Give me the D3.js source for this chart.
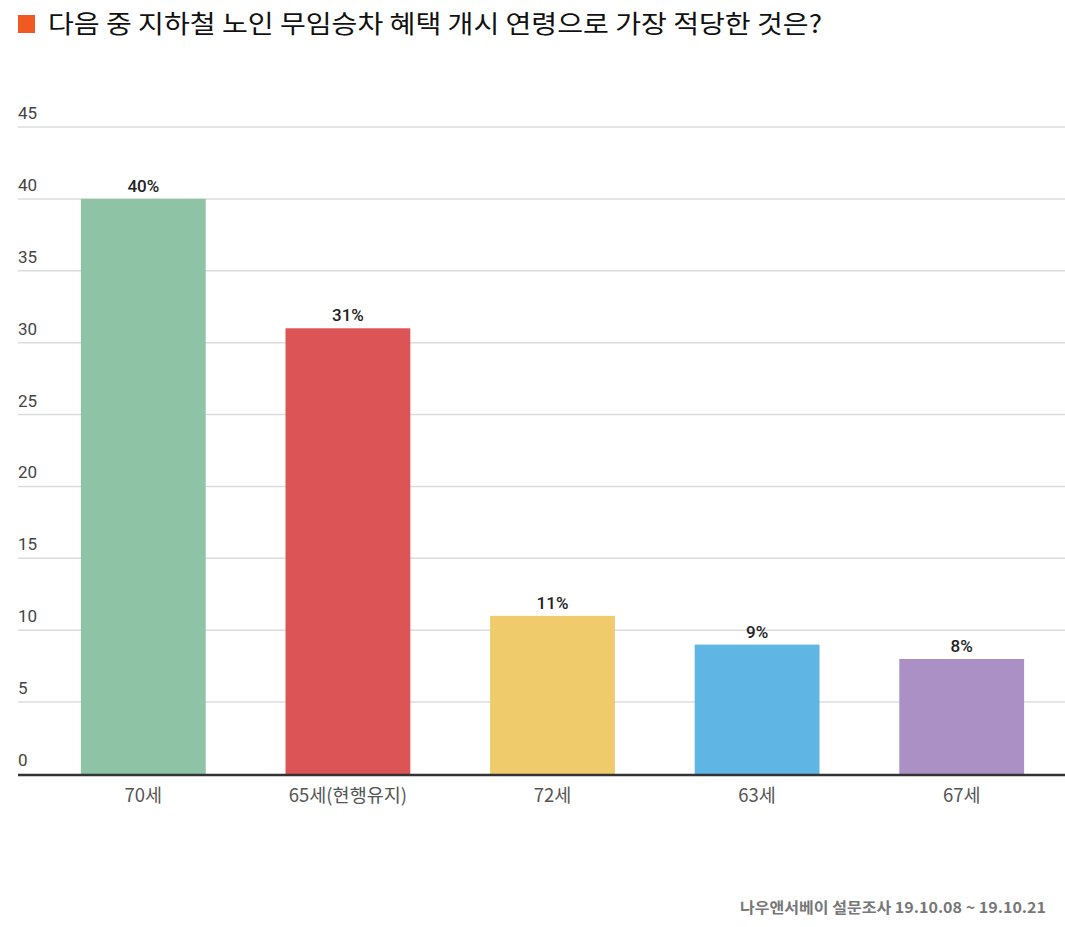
<!DOCTYPE html>
<html><head><meta charset="utf-8">
<script src="https://cdn.jsdelivr.net/npm/d3@7"></script>
<style>body{margin:0;background:#fff;} svg{display:block;}</style>
</head><body>
<script>
const categories = ["70세", "65세(현행유지)", "72세", "63세", "67세"];
const values = [40, 31, 11, 9, 8];
const colors = ["#8fc3a6", "#dd5456", "#efcb6b", "#5fb5e4", "#ab90c6"];
const yTicks = [0, 5, 10, 15, 20, 25, 30, 35, 40, 45];
const title = "다음 중 지하철 노인 무임승차 혜택 개시 연령으로 가장 적당한 것은?";
const source = "나우앤서베이 설문조사 19.10.08 ~ 19.10.21";

const W = 1065, H = 927;
const svg = d3.select("body").append("svg").attr("width", W).attr("height", H);
const font = "'Noto Sans CJK KR', 'Noto Sans', sans-serif";

const x = d3.scaleBand().domain(categories).range([41, 1064]).paddingInner(0.39).paddingOuter(0.195);
const y = d3.scaleLinear().domain([0, 45]).range([774, 127]);

// title
svg.append("rect").attr("x", 18).attr("y", 15).attr("width", 17).attr("height", 18).attr("fill", "#f05a22");
svg.append("text").attr("x", 48).attr("y", 33).attr("font-family", font).attr("font-size", 25)
  .attr("textLength", 774).attr("lengthAdjust", "spacingAndGlyphs")
  .attr("fill", "#111").text(title);

// grid
const g = svg.append("g");
yTicks.forEach(t => {
  if (t > 0) g.append("line").attr("x1", 18).attr("x2", 1065).attr("y1", y(t)).attr("y2", y(t))
    .attr("stroke", "#dcdcdc").attr("stroke-width", 1.5);
  g.append("text").attr("x", 18).attr("y", y(t) - 8).attr("font-family", "Roboto, sans-serif")
    .attr("font-size", 17).attr("fill", "#444").text(t);
});

// bars
svg.selectAll("rect.bar").data(values).enter().append("rect").attr("class", "bar")
  .attr("x", (d, i) => x(categories[i])).attr("width", x.bandwidth())
  .attr("y", d => y(d)).attr("height", d => y(0) - y(d))
  .attr("fill", (d, i) => colors[i]);

svg.selectAll("text.val").data(values).enter().append("text").attr("class", "val")
  .attr("x", (d, i) => x(categories[i]) + x.bandwidth() / 2).attr("y", d => y(d) - 7)
  .attr("text-anchor", "middle").attr("font-family", "Roboto, sans-serif").attr("font-weight", 500)
  .attr("font-size", 17).attr("fill", "#222").text(d => d + "%");

// baseline
svg.append("line").attr("x1", 18).attr("x2", 1065).attr("y1", y(0) + 1).attr("y2", y(0) + 1)
  .attr("stroke", "#333").attr("stroke-width", 2.5);

// x axis labels
svg.selectAll("text.cat").data(categories).enter().append("text").attr("class", "cat")
  .attr("x", d => x(d) + x.bandwidth() / 2).attr("y", 802)
  .attr("text-anchor", "middle").attr("font-family", font)
  .attr("font-size", 18.5).attr("fill", "#555").text(d => d);

// source
svg.append("text").attr("x", 1046).attr("y", 913).attr("text-anchor", "end")
  .attr("font-family", font).attr("font-weight", "bold").attr("font-size", 15)
  .attr("textLength", 306).attr("lengthAdjust", "spacingAndGlyphs")
  .attr("fill", "#777").text(source);
</script>
</body></html>
